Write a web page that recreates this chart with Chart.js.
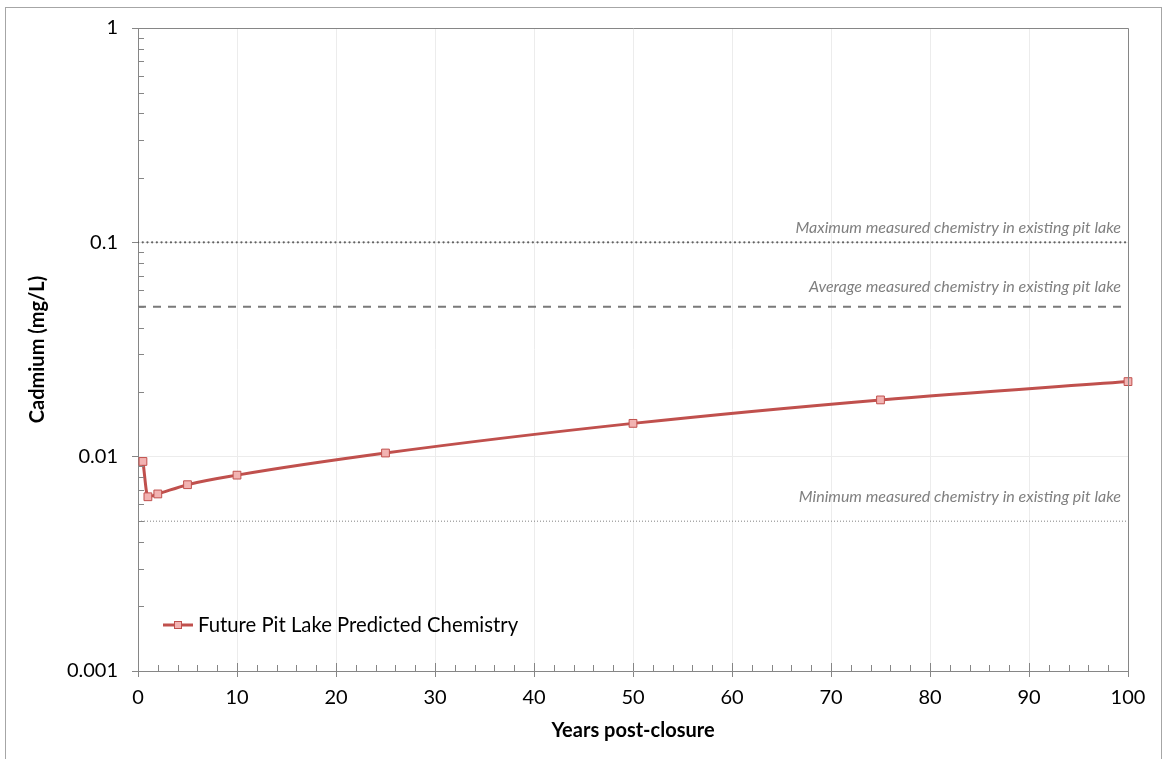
<!DOCTYPE html>
<html>
<head>
<meta charset="utf-8">
<script src="https://cdn.jsdelivr.net/npm/chart.js@4.4.1/dist/chart.umd.min.js"></script>
<style>
  html, body { margin: 0; padding: 0; background: #ffffff; }
  #wrap { width: 1165px; height: 759px; position: relative; }
</style>
</head>
<body>
<div id="wrap"><canvas id="chart" width="1165" height="759"></canvas></div>
<script>
// Predicted cadmium concentration in the future pit lake
const years = [0.5, 1, 2, 5, 10, 25, 50, 75, 100];
const cadmium = [0.0095, 0.0065, 0.0067, 0.0074, 0.0082, 0.0104, 0.0143, 0.0184, 0.0224];

// Measured chemistry in the existing pit lake (mg/L)
const refLabels = [
  'Maximum measured chemistry in existing pit lake',
  'Average measured chemistry in existing pit lake',
  'Minimum measured chemistry in existing pit lake'
];
const refValues = [0.1, 0.05, 0.005];

// Axis ranges and tick labels
const xRange = [0, 100];
const yRange = [0.001, 1];
const yTickLabels = ['0.001', '0.01', '0.1', '1'];

const seriesName = 'Future Pit Lake Predicted Chemistry';
const FONT = 'Lato, "Open Sans", sans-serif';
const AXIS_GREY = '#868686';
const GRID_GREY = '#ececec';
const RED = '#c0504d';
const PINK = '#f2b3b2';

const isDecade = v => Math.abs(Math.log10(v) - Math.round(Math.log10(v))) < 1e-9;

const refStyles = [
  { color: '#636363', width: 2.2, dash: [0.1, 4.6], cap: 'round', textOffset: 9 },
  { color: '#7a7a7a', width: 2, dash: [8, 7], cap: 'butt', textOffset: 15 },
  { color: '#808080', width: 1, dash: [1, 2], cap: 'butt', textOffset: 19 }
];

const refDatasets = refValues.map((v, i) => ({
  label: refLabels[i],
  data: xRange.map(x => ({ x: x, y: v })),
  borderColor: refStyles[i].color,
  borderWidth: refStyles[i].width,
  borderDash: refStyles[i].dash,
  borderCapStyle: refStyles[i].cap,
  pointRadius: 0,
  fill: false,
  order: 2
}));

const decor = {
  id: 'decor',
  beforeDraw(chart) {
    const ctx = chart.ctx;
    ctx.save();
    ctx.fillStyle = '#ffffff';
    ctx.fillRect(0, 0, chart.width, chart.height);
    ctx.restore();
  },
  afterDraw(chart) {
    const ctx = chart.ctx;
    const a = chart.chartArea;
    const xs = chart.scales.x;
    const ys = chart.scales.y;
    ctx.save();

    // outer frame
    ctx.strokeStyle = '#a6a6a6';
    ctx.lineWidth = 1;
    ctx.strokeRect(5.5, 7.5, 1156, 800);

    // plot area frame (top and right edges)
    ctx.strokeStyle = AXIS_GREY;
    ctx.beginPath();
    ctx.moveTo(Math.round(a.left) + 0.5, Math.round(a.top) + 0.5);
    ctx.lineTo(Math.round(a.right) + 0.5, Math.round(a.top) + 0.5);
    ctx.lineTo(Math.round(a.right) + 0.5, Math.round(a.bottom) + 0.5);
    ctx.stroke();

    // minor ticks on the y axis, inside the plot
    ctx.beginPath();
    ys.ticks.forEach(t => {
      if (isDecade(t.value)) return;
      const py = Math.round(ys.getPixelForValue(t.value)) + 0.5;
      ctx.moveTo(a.left, py);
      ctx.lineTo(a.left + 6, py);
    });
    // minor ticks on the x axis every 2 years, major ticks crossing
    for (let v = xRange[0] + 2; v < xRange[1]; v += 2) {
      const px = Math.round(xs.getPixelForValue(v)) + 0.5;
      const len = (v % 10 === 0) ? 8 : 6;
      ctx.moveTo(px, a.bottom);
      ctx.lineTo(px, a.bottom - len);
    }
    ctx.stroke();

    // reference line captions
    ctx.fillStyle = '#7f7f7f';
    ctx.font = 'italic 16px ' + FONT;
    ctx.textAlign = 'right';
    ctx.textBaseline = 'alphabetic';
    refValues.forEach((v, i) => {
      const py = ys.getPixelForValue(v);
      ctx.fillText(refLabels[i], a.right - 7, py - refStyles[i].textOffset);
    });

    // legend
    const lx = a.left + 25, ly = 625;
    ctx.strokeStyle = RED;
    ctx.lineWidth = 3;
    ctx.beginPath();
    ctx.moveTo(lx, ly);
    ctx.lineTo(lx + 30, ly);
    ctx.stroke();
    ctx.fillStyle = PINK;
    ctx.lineWidth = 1;
    ctx.fillRect(lx + 11.5, ly - 3.5, 7, 7);
    ctx.strokeRect(lx + 11.5, ly - 3.5, 7, 7);
    ctx.fillStyle = '#000000';
    ctx.font = '20.3px ' + FONT;
    ctx.textAlign = 'left';
    ctx.textBaseline = 'middle';
    ctx.fillText(seriesName, lx + 35, ly);

    ctx.restore();
  }
};

new Chart(document.getElementById('chart'), {
  type: 'line',
  data: {
    datasets: [
      {
        label: seriesName,
        data: years.map((x, i) => ({ x: x, y: cadmium[i] })),
        borderColor: RED,
        borderWidth: 3,
        backgroundColor: PINK,
        pointStyle: 'rect',
        pointRadius: 5.5,
        pointBorderWidth: 1,
        pointBorderColor: RED,
        pointBackgroundColor: PINK,
        cubicInterpolationMode: 'monotone',
        clip: false,
        order: 1
      },
      ...refDatasets
    ]
  },
  options: {
    responsive: false,
    animation: false,
    devicePixelRatio: 1,
    layout: { padding: { left: 0, top: 28, right: 37, bottom: 0 } },
    plugins: { legend: { display: false }, tooltip: { enabled: false } },
    scales: {
      x: {
        type: 'linear',
        min: xRange[0],
        max: xRange[1],
        afterFit: s => { s.height = 88; },
        ticks: { stepSize: 10, color: '#000000', padding: 9, font: { family: FONT, size: 20 } },
        grid: {
          color: c => (c.tick && c.tick.value > xRange[0]) ? GRID_GREY : 'rgba(0,0,0,0)',
          tickColor: AXIS_GREY,
          tickLength: 6,
          drawTicks: true
        },
        border: { color: AXIS_GREY, width: 1 },
        title: {
          display: true,
          text: 'Years post-closure',
          color: '#000000',
          font: { family: FONT, size: 20, weight: 'bold' },
          padding: { top: 0, bottom: 16 }
        }
      },
      y: {
        type: 'logarithmic',
        min: yRange[0],
        max: yRange[1],
        afterFit: s => { s.width = 138; },
        afterBuildTicks: s => {
          // keep 1..9 per decade so minor ticks can be drawn
          const out = [];
          for (let e = -3; e <= 0; e++) {
            for (let m = 1; m <= 9; m++) {
              const v = m * Math.pow(10, e);
              if (v <= yRange[1] + 1e-12) out.push({ value: v });
            }
          }
          s.ticks = out;
        },
        ticks: {
          color: '#000000',
          padding: 14,
          autoSkip: false,
          font: { family: FONT, size: 20 },
          callback: function (v) {
            if (!isDecade(v)) return '';
            const idx = Math.round(Math.log10(v)) + 3;
            return yTickLabels[idx];
          }
        },
        grid: {
          color: c => (c.tick && isDecade(c.tick.value) && c.tick.value > yRange[0] && c.tick.value < yRange[1]) ? GRID_GREY : 'rgba(0,0,0,0)',
          tickColor: c => (c.tick && isDecade(c.tick.value)) ? AXIS_GREY : 'rgba(0,0,0,0)',
          tickLength: 6
        },
        border: { color: AXIS_GREY, width: 1 },
        title: {
          display: true,
          text: 'Cadmium (mg/L)',
          color: '#000000',
          font: { family: FONT, size: 20, weight: 'bold' },
          padding: { top: 26, bottom: 0 }
        }
      }
    }
  },
  plugins: [decor]
});
</script>
</body>
</html>
